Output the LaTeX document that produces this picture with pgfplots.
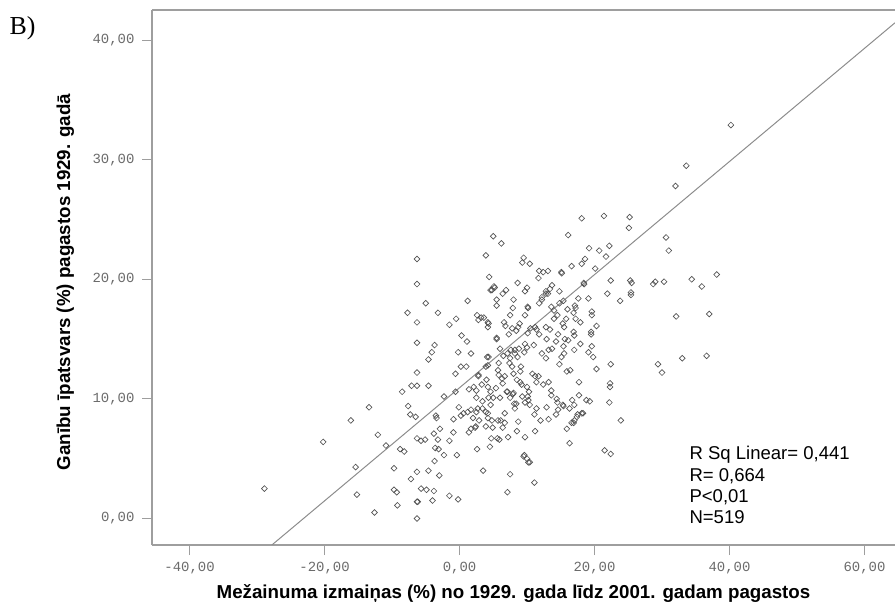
\documentclass[border=0pt]{standalone}
\usepackage{pgfplots}
\pgfplotsset{compat=1.18}
\usepackage{pgfplotstable}
\usepackage{fontspec}
\setmainfont{Liberation Sans}
\newfontfamily\monofont{Liberation Mono}
\newfontfamily\seriffont{Liberation Serif}
\definecolor{framegray}{gray}{0.62}
\definecolor{tickgray}{gray}{0.42}
\definecolor{markgray}{gray}{0.32}
\definecolor{linegray}{gray}{0.55}

\pgfplotstableread{
x y
-28.9 2.5
-20.2 6.4
-16.1 8.2
-15.4 4.3
-15.2 2.0
-13.4 9.3
-12.6 0.5
-12.1 7.0
-10.9 6.1
-9.7 4.2
-9.7 2.4
-9.3 2.2
-9.2 1.1
-8.8 5.8
-8.2 5.6
-8.5 10.6
-7.6 9.4
-7.3 8.7
-7.2 3.3
-7.1 11.1
-6.5 8.5
-6.3 6.7
-6.3 3.9
-6.3 1.4
-6.2 1.4
-6.3 0.0
-6.3 11.1
-6.3 12.2
-6.3 14.7
-6.3 16.4
-6.3 19.6
-6.3 21.7
-7.7 17.2
-5.7 6.5
-5.7 2.5
-5.1 6.6
-5.0 18.0
-4.9 2.4
-4.6 4.0
-4.6 11.1
-4.6 13.3
-4.1 13.9
-4.0 1.5
-3.8 2.3
-3.8 7.1
-3.7 4.8
-3.7 14.5
-3.6 5.9
-3.5 8.6
-3.4 8.4
-3.2 6.6
-3.2 17.2
-3.1 5.8
-3.0 3.6
-2.9 7.5
-2.3 5.3
-2.3 10.2
-1.5 1.9
-1.5 6.5
-1.5 16.2
-0.9 8.3
-0.9 7.2
-0.6 10.6
-0.6 12.1
-0.5 16.7
-0.4 5.3
-0.2 1.6
-0.2 13.9
-0.1 9.3
0.2 8.6
0.2 12.7
0.3 15.3
0.6 8.8
1.0 12.7
1.1 14.8
1.2 18.2
1.2 8.9
1.4 7.2
1.4 10.8
1.7 7.5
1.7 9.1
1.7 13.8
2.0 8.4
2.1 11.0
2.3 7.6
2.4 7.7
2.5 8.9
2.5 10.1
2.5 10.7
2.6 5.8
2.6 17.0
2.7 9.2
2.8 11.9
2.8 12.0
2.8 16.6
2.9 8.2
3.2 16.8
3.3 11.2
3.4 9.2
3.4 9.8
3.5 4.0
3.6 16.8
3.9 7.7
3.9 8.9
3.9 12.7
3.9 22.0
4.0 11.6
4.1 13.5
4.2 8.4
4.2 8.8
4.2 11.0
4.2 12.8
4.2 16.0
4.2 16.4
4.3 10.1
4.3 13.5
4.3 16.3
4.4 20.2
4.5 6.0
4.6 9.5
4.6 10.6
4.6 19.1
4.7 6.7
4.8 8.2
4.8 19.1
4.9 7.6
5.0 10.1
5.0 23.6
5.1 19.4
5.2 19.3
5.4 10.9
5.5 15.0
5.5 15.1
5.5 17.8
5.5 18.3
5.6 6.7
5.7 8.2
5.7 12.4
5.8 12.0
5.8 13.0
5.9 6.6
6.0 10.1
6.0 14.2
6.1 8.2
6.2 23.0
6.3 11.7
6.4 7.6
6.4 11.3
6.4 18.8
6.5 13.6
6.6 16.4
6.7 8.0
6.7 8.8
6.7 11.9
6.8 16.1
6.9 19.1
7.0 10.6
7.1 2.2
7.1 10.6
7.1 13.8
7.2 6.8
7.3 15.4
7.4 13.0
7.5 3.7
7.5 10.1
7.5 13.4
7.5 17.0
7.6 14.1
7.8 12.7
7.8 15.9
7.9 10.4
7.9 17.6
8.0 10.5
8.0 12.1
8.0 18.3
8.1 9.6
8.2 9.2
8.2 13.8
8.2 14.1
8.4 9.6
8.4 15.7
8.5 7.3
8.5 11.6
8.6 13.5
8.6 19.7
8.7 8.1
8.7 16.0
8.8 14.2
8.9 16.3
9.0 11.4
9.0 12.3
9.1 12.7
9.2 11.2
9.3 10.2
9.3 21.4
9.5 5.2
9.5 21.8
9.6 5.3
9.6 13.9
9.7 6.8
9.7 9.7
9.7 14.6
9.7 17.0
9.7 19.0
10.0 5.0
10.0 11.0
10.0 14.3
10.0 19.3
10.1 10.2
10.1 15.5
10.1 17.7
10.15 17.6
10.2 4.7
10.2 9.9
10.3 10.6
10.4 4.7
10.4 9.5
10.4 21.3
10.5 15.9
10.8 12.1
11.0 14.5
11.1 3.0
11.1 8.7
11.2 7.3
11.2 11.9
11.2 16.0
11.4 9.2
11.4 11.4
11.4 15.8
11.7 11.9
11.7 20.1
11.8 15.4
11.8 18.0
11.8 20.7
12.0 8.2
12.2 13.8
12.2 18.3
12.2 18.5
12.4 11.2
12.4 20.6
12.8 13.4
12.8 16.0
12.8 19.0
12.8 18.8
12.9 9.3
12.9 15.0
13.1 18.8
13.1 20.7
13.2 8.3
13.2 11.4
13.2 14.1
13.4 15.8
13.4 19.2
13.6 10.3
13.6 10.7
13.6 17.7
13.7 14.2
13.7 19.5
14.0 16.7
14.0 17.4
14.3 8.7
14.3 14.8
14.4 10.0
14.5 9.7
14.5 17.0
14.6 9.1
14.6 15.4
14.8 12.9
14.8 18.0
14.8 19.0
15.1 13.5
15.1 20.6
15.15 20.5
15.3 9.5
15.3 16.3
15.4 9.4
15.4 14.4
15.4 18.2
15.5 13.8
15.5 16.0
15.6 15.0
15.8 16.7
15.9 7.5
15.9 12.3
16.0 17.5
16.1 14.9
16.1 23.7
16.3 6.3
16.3 9.2
16.4 12.4
16.6 8.0
16.6 21.1
16.7 9.9
16.9 8.0
16.9 15.6
16.9 17.2
17.0 8.2
17.0 9.5
17.0 14.1
17.0 15.3
17.1 17.8
17.2 16.7
17.2 17.6
17.4 8.5
17.5 8.7
17.6 18.4
17.7 10.3
17.7 11.4
17.9 14.6
17.9 16.4
18.1 8.8
18.1 21.3
18.1 25.1
18.3 8.8
18.4 19.7
18.45 19.6
18.6 21.7
18.8 9.9
19.1 13.9
19.1 18.4
19.2 22.6
19.3 9.8
19.5 15.6
19.5 15.4
19.6 14.4
19.6 17.0
19.6 17.3
19.8 13.5
20.1 20.9
20.3 12.5
20.3 16.1
20.7 22.4
21.4 25.3
21.5 5.7
21.7 21.9
21.9 18.8
22.2 9.7
22.2 22.8
22.3 11.0
22.3 11.3
22.4 5.4
22.4 12.9
22.4 19.9
23.8 18.2
23.9 8.2
25.1 24.3
25.2 25.2
25.3 19.9
25.4 18.7
25.4 18.9
25.5 19.7
28.7 19.6
29.0 19.8
29.4 12.9
30.0 12.2
30.3 19.8
30.6 23.5
31.0 22.4
32.0 27.8
32.1 16.9
33.0 13.4
33.6 29.5
34.4 20.0
35.9 19.4
36.6 13.6
37.0 17.1
38.1 20.4
40.2 32.9
}\scatterdata

\begin{document}
\begin{tikzpicture}
\path[use as bounding box] (0bp,0bp) rectangle (895bp,602bp);
\begin{axis}[
  at={(152bp,57bp)}, anchor=south west,
  scale only axis, width=743bp, height=535bp,
  xmin=-45.56, xmax=64.52, ymin=-2.216, ymax=42.52,
  axis x line*=bottom, axis y line*=left,
  axis line style={framegray, line width=1.2bp},
  xtick={-40,-20,0,20,40,60},
  xticklabels={{-40,00},{-20,00},{0,00},{20,00},{40,00},{60,00}},
  ytick={0,10,20,30,40},
  yticklabels={{0,00},{10,00},{20,00},{30,00},{40,00}},
  tick align=outside, major tick length=10bp,
  tick style={framegray, line width=1bp},
  ticklabel style={font=\monofont\fontsize{14}{15}\selectfont, text=tickgray},
  xticklabel style={yshift=-4bp},
  yticklabel style={xshift=-4bp},
  clip=true,
]
\addplot[only marks, mark=square, mark size=2.05bp,
  mark options={rotate=45, draw=markgray, line width=0.65bp, fill=none}] table {\scatterdata};
\addplot[linegray, line width=1bp] coordinates {(-27.8,-2.216) (64.52,41.45)};
\draw[framegray, line width=1.6bp] (rel axis cs:0,1) -- (rel axis cs:1,1);
\end{axis}
\node[font=\bfseries\fontsize{18.8}{20}\selectfont, anchor=base] at (513.5bp,4bp)
  {Mežainuma izmaiņas (\%) no 1929. gada līdz 2001. gadam pagastos};
\node[font=\bfseries\fontsize{18.8}{20}\selectfont, anchor=base, rotate=90] at (70bp,320bp)
  {Ganību īpatsvars (\%) pagastos 1929. gadā};
\node[font=\fontsize{18.6}{20}\selectfont, anchor=base west] at (686bp,142.7bp) {R Sq Linear= 0,441};
\node[font=\fontsize{18.6}{20}\selectfont, anchor=base west] at (686bp,120.3bp) {R= 0,664};
\node[font=\fontsize{18.6}{20}\selectfont, anchor=base west] at (686bp,99.3bp) {P<0,01};
\node[font=\fontsize{18.6}{20}\selectfont, anchor=base west] at (686bp,78bp) {N=519};
\node[font=\seriffont\fontsize{26}{28}\selectfont, anchor=base west] at (6bp,567bp) {B)};
\end{tikzpicture}
\end{document}
